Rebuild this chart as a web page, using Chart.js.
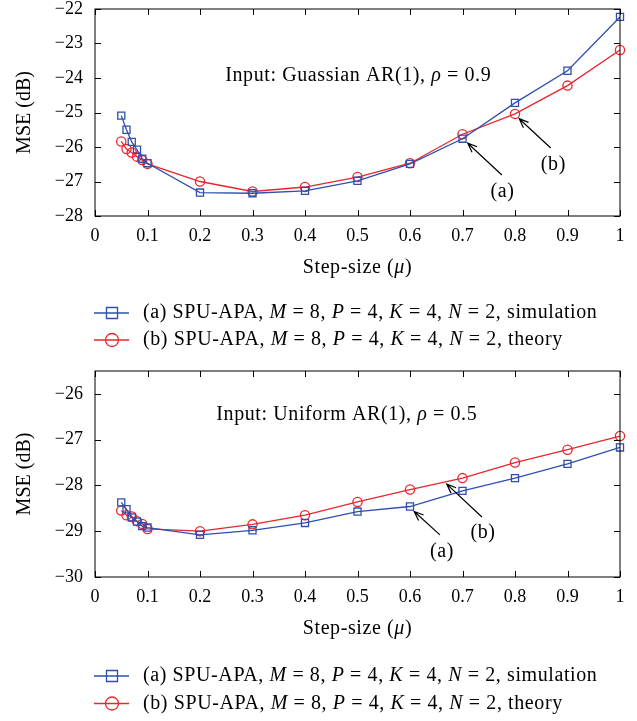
<!DOCTYPE html>
<html>
<head>
<meta charset="utf-8">
<script src="https://cdn.jsdelivr.net/npm/chart.js@4.4.1/dist/chart.umd.min.js"></script>
<style>
  body { margin: 0; background: #fff; }
  canvas { display: block; }
</style>
</head>
<body>
<canvas id="chartGauss" width="637" height="360"></canvas>
<canvas id="chartUniform" width="637" height="361"></canvas>
<script>
// step sizes on the x axis
const stepSizes = [0.05, 0.06, 0.07, 0.08, 0.09, 0.1, 0.2, 0.3, 0.4, 0.5, 0.6, 0.7, 0.8, 0.9, 1];

// Gaussian AR(1), rho = 0.9
const gaussSim    = [-25.09, -25.50, -25.85, -26.08, -26.34, -26.47, -27.32, -27.34, -27.27, -26.98, -26.49, -25.76, -24.72, -23.79, -22.23];
const gaussTheory = [-25.84, -26.06, -26.16, -26.28, -26.38, -26.49, -27.00, -27.29, -27.16, -26.87, -26.47, -25.63, -25.04, -24.22, -23.19];

// Uniform AR(1), rho = 0.5
const uniformSim    = [-28.37, -28.52, -28.70, -28.79, -28.89, -28.92, -29.08, -28.98, -28.82, -28.57, -28.46, -28.12, -27.84, -27.53, -27.17];
const uniformTheory = [-28.55, -28.65, -28.68, -28.78, -28.84, -28.95, -29.00, -28.85, -28.65, -28.36, -28.09, -27.84, -27.50, -27.22, -26.92];

const xTickValues = [0, 0.1, 0.2, 0.3, 0.4, 0.5, 0.6, 0.7, 0.8, 0.9, 1];
const gaussYTicks = [-28, -27, -26, -25, -24, -23, -22];
const uniformYTicks = [-30, -29, -28, -27, -26];

const BLUE = '#2f4fb0';
const RED = '#e8262c';
const FONT = "'Liberation Serif', 'Times New Roman', serif";
const TICK_SIZE = 18;
const TEXT_SIZE = 20;

const xTitleRuns = [['Step-size (', 0], ['μ', 1], [')', 0]];

const legendRows = [
  { color: BLUE, marker: 'rect', runs: [['(a) SPU-APA, ', 0], ['M', 1], [' = 8, ', 0], ['P', 1], [' = 4, ', 0], ['K', 1], [' = 4, ', 0], ['N', 1], [' = 2, simulation', 0]] },
  { color: RED, marker: 'circle', runs: [['(b) SPU-APA, ', 0], ['M', 1], [' = 8, ', 0], ['P', 1], [' = 4, ', 0], ['K', 1], [' = 4, ', 0], ['N', 1], [' = 2, theory', 0]] }
];

function setFont(ctx, italic) {
  ctx.font = (italic ? 'italic ' : '') + TEXT_SIZE + 'px ' + FONT;
}

function runsWidth(ctx, runs) {
  let w = 0;
  runs.forEach(([text, italic]) => {
    setFont(ctx, italic);
    w += ctx.measureText(text).width;
  });
  return w;
}

// text made of plain and italic pieces, drawn left to right
function drawRuns(ctx, runs, x, y) {
  ctx.textBaseline = 'middle';
  ctx.textAlign = 'left';
  ctx.fillStyle = '#000';
  runs.forEach(([text, italic]) => {
    setFont(ctx, italic);
    ctx.fillText(text, x, y);
    x += ctx.measureText(text).width;
  });
}

function drawArrow(ctx, x1, y1, x2, y2) {
  const ang = Math.atan2(y2 - y1, x2 - x1);
  const head = 10;
  ctx.beginPath();
  ctx.moveTo(x1, y1);
  ctx.lineTo(x2, y2);
  ctx.moveTo(x2 - head * Math.cos(ang - 0.38), y2 - head * Math.sin(ang - 0.38));
  ctx.lineTo(x2, y2);
  ctx.lineTo(x2 - head * Math.cos(ang + 0.38), y2 - head * Math.sin(ang + 0.38));
  ctx.stroke();
}

// frame, inward ticks, notes, arrows, x title and the legend underneath
const decorPlugin = {
  id: 'decor',
  afterDraw(chart, args, opts) {
    const { ctx, chartArea: a, scales: { x, y } } = chart;
    ctx.save();
    ctx.letterSpacing = '0.6px';
    ctx.strokeStyle = '#000';
    ctx.lineWidth = 1;
    ctx.strokeRect(a.left, a.top, a.right - a.left, a.bottom - a.top);

    const tl = 6;
    ctx.beginPath();
    x.ticks.forEach(t => {
      const px = Math.round(x.getPixelForValue(t.value)) + 0.5;
      ctx.moveTo(px, a.bottom); ctx.lineTo(px, a.bottom - tl);
      ctx.moveTo(px, a.top); ctx.lineTo(px, a.top + tl);
    });
    y.ticks.forEach(t => {
      const py = Math.round(y.getPixelForValue(t.value)) + 0.5;
      ctx.moveTo(a.left, py); ctx.lineTo(a.left + tl, py);
      ctx.moveTo(a.right, py); ctx.lineTo(a.right - tl, py);
    });
    ctx.stroke();

    // note inside the plot
    drawRuns(ctx, opts.note.runs, x.getPixelForValue(opts.note.at[0]), y.getPixelForValue(opts.note.at[1]));

    // x axis title with italic mu
    const tw = runsWidth(ctx, xTitleRuns);
    drawRuns(ctx, xTitleRuns, (a.left + a.right) / 2 - tw / 2, a.bottom + 52);

    // arrows pointing at the curves
    ctx.lineWidth = 1.2;
    opts.arrows.forEach(ar => {
      drawArrow(ctx,
        x.getPixelForValue(ar.from[0]), y.getPixelForValue(ar.from[1]),
        x.getPixelForValue(ar.to[0]), y.getPixelForValue(ar.to[1]));
      setFont(ctx, false);
      ctx.textAlign = 'center';
      ctx.textBaseline = 'middle';
      ctx.fillText(ar.label, x.getPixelForValue(ar.text[0]), y.getPixelForValue(ar.text[1]));
    });

    // legend
    legendRows.forEach((row, i) => {
      const ly = a.bottom + opts.legendY[i];
      const cx = a.left + 17;
      ctx.strokeStyle = row.color;
      ctx.lineWidth = 1.3;
      ctx.beginPath();
      ctx.moveTo(a.left - 1, ly); ctx.lineTo(a.left + 34, ly);
      ctx.stroke();
      ctx.beginPath();
      if (row.marker === 'rect') ctx.rect(cx - 5.5, ly - 5.5, 11, 11);
      else ctx.arc(cx, ly, 6.5, 0, Math.PI * 2);
      ctx.stroke();
      drawRuns(ctx, row.runs, a.left + 48, ly);
    });
    ctx.restore();
  }
};

function makeChart(id, sim, theory, yMin, yMax, yTicks, pad, decor) {
  return new Chart(document.getElementById(id), {
    type: 'line',
    data: {
      datasets: [
        {
          label: 'simulation',
          data: stepSizes.map((s, i) => ({ x: s, y: sim[i] })),
          borderColor: BLUE, borderWidth: 1.3,
          pointStyle: 'rect', pointRadius: 5, pointBorderColor: BLUE,
          pointBorderWidth: 1.3, pointBackgroundColor: 'rgba(0,0,0,0)',
          clip: false
        },
        {
          label: 'theory',
          data: stepSizes.map((s, i) => ({ x: s, y: theory[i] })),
          borderColor: RED, borderWidth: 1.3,
          pointStyle: 'circle', pointRadius: 4.6, pointBorderColor: RED,
          pointBorderWidth: 1.3, pointBackgroundColor: 'rgba(0,0,0,0)',
          clip: false
        }
      ]
    },
    options: {
      responsive: false,
      animation: false,
      layout: { padding: { left: 0, right: 17, top: pad.top, bottom: pad.bottom } },
      plugins: { legend: { display: false }, tooltip: { enabled: false }, decor },
      scales: {
        x: {
          type: 'linear', min: 0, max: 1,
          afterBuildTicks: s => { s.ticks = xTickValues.map(v => ({ value: v })); },
          afterFit: s => { s.height = 64; s.paddingLeft = 0; s.paddingRight = 0; },
          grid: { display: false, drawTicks: false },
          border: { display: false },
          ticks: {
            padding: 9, color: '#000', font: { family: FONT, size: TICK_SIZE },
            callback: v => String(Number(v.toFixed(2)))
          },
          title: { display: false }
        },
        y: {
          type: 'linear', min: yMin, max: yMax,
          afterBuildTicks: s => { s.ticks = yTicks.map(v => ({ value: v })); },
          afterFit: s => { s.width = 95; s.paddingTop = 0; s.paddingBottom = 0; },
          grid: { display: false, drawTicks: false },
          border: { display: false },
          ticks: {
            padding: 12, color: '#000', font: { family: FONT, size: TICK_SIZE },
            callback: v => String(v).replace('-', '\u2212')
          },
          title: {
            display: true, text: 'MSE (dB)', color: '#000',
            font: { family: FONT, size: TEXT_SIZE }, padding: { top: 13, bottom: 0 }
          }
        }
      }
    },
    plugins: [decorPlugin]
  });
}

makeChart('chartGauss', gaussSim, gaussTheory, -28, -22, gaussYTicks,
  { top: 9, bottom: 80 },
  {
    note: { at: [0.248, -23.94], runs: [['Input: Guassian AR(1), ', 0], ['ρ', 1], [' = 0.9', 0]] },
    arrows: [
      { label: '(a)', from: [0.775, -26.81], to: [0.710, -25.89], text: [0.776, -27.29] },
      { label: '(b)', from: [0.868, -26.03], to: [0.808, -25.18], text: [0.873, -26.52] }
    ],
    legendY: [97, 124]
  });

makeChart('chartUniform', uniformSim, uniformTheory, -30, -25.5, uniformYTicks,
  { top: 11, bottom: 80 },
  {
    note: { at: [0.231, -26.46], runs: [['Input: Uniform AR(1), ', 0], ['ρ', 1], [' = 0.5', 0]] },
    arrows: [
      { label: '(a)', from: [0.657, -29.08], to: [0.608, -28.57], text: [0.661, -29.45] },
      { label: '(b)', from: [0.737, -28.69], to: [0.670, -27.97], text: [0.739, -29.04] }
    ],
    legendY: [99, 126.5]
  });
</script>
</body>
</html>
